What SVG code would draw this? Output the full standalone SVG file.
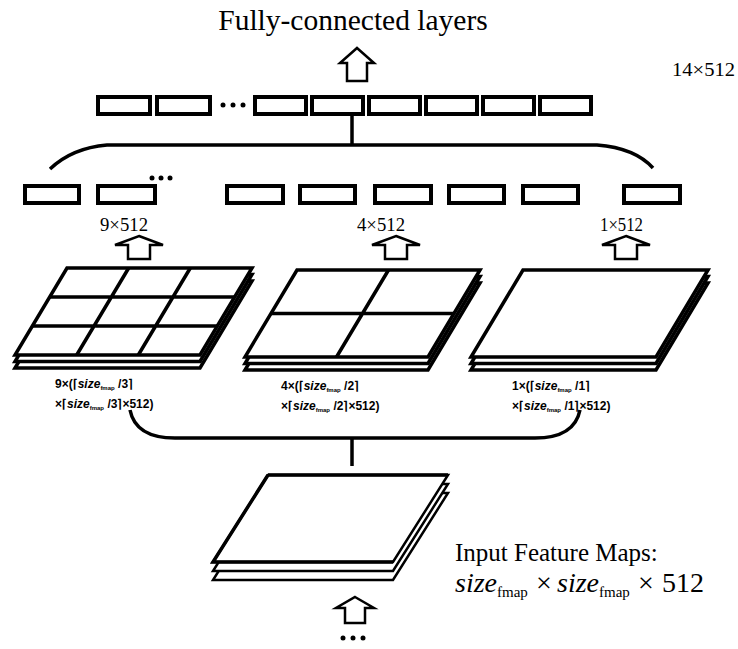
<svg xmlns="http://www.w3.org/2000/svg" width="738" height="649" viewBox="0 0 738 649">
<style>
.box{fill:#fff;stroke:#000;stroke-width:4}
.plate{fill:#fff;stroke:#000;stroke-width:3.5;stroke-linejoin:miter}
.plate2{fill:#fff;stroke:#000;stroke-width:2.5}
.grid{stroke:#000;stroke-width:3.5;fill:none}
.conn{fill:none;stroke:#000;stroke-width:3.5}
.arrow{fill:#fff;stroke:#000;stroke-width:2.5;stroke-linejoin:miter}
.serif{font-family:"Liberation Serif","Times New Roman",serif;fill:#000}
.f{font-family:"Liberation Sans",Arial,sans-serif;font-weight:bold;font-size:12px;fill:#000}
.it{font-style:italic}
.sub{font-size:6px}
.dot{fill:#000}
</style>
<rect width="738" height="649" fill="#fff"/>

<g id="title"><text class="serif" x="353" y="30" font-size="29.5" text-anchor="middle">Fully-connected layers</text></g>
<g id="label-14x512"><text class="serif" x="672" y="76" font-size="19" textLength="63" lengthAdjust="spacingAndGlyphs">14×512</text></g>

<g id="fc-vector">
<rect class="box" x="98" y="97" width="52" height="17"/>
<rect class="box" x="157" y="97" width="53" height="17"/>
<circle class="dot" cx="223" cy="105" r="2.5"/><circle class="dot" cx="233" cy="105" r="2.5"/><circle class="dot" cx="243" cy="105" r="2.5"/>
<rect class="box" x="255" y="97" width="51" height="17"/>
<rect class="box" x="312" y="97" width="51" height="17"/>
<rect class="box" x="369" y="97" width="51" height="17"/>
<rect class="box" x="426" y="97" width="51" height="17"/>
<rect class="box" x="483" y="97" width="51" height="17"/>
<rect class="box" x="540" y="97" width="51" height="17"/>
</g>

<g id="pooled-vectors">
<rect class="box" x="25" y="186" width="54" height="17"/>
<rect class="box" x="98" y="186" width="57" height="17"/>
<circle class="dot" cx="152" cy="178" r="2.5"/><circle class="dot" cx="161" cy="178" r="2.5"/><circle class="dot" cx="170" cy="178" r="2.5"/>
<rect class="box" x="227" y="186" width="56" height="17"/>
<rect class="box" x="300" y="186" width="55" height="17"/>
<rect class="box" x="375" y="186" width="56" height="17"/>
<rect class="box" x="449" y="186" width="55" height="17"/>
<rect class="box" x="523" y="186" width="55" height="17"/>
<rect class="box" x="624" y="186" width="56" height="17"/>
</g>

<g id="labels-512">
<text class="serif" x="100" y="231" font-size="18" textLength="48" lengthAdjust="spacingAndGlyphs">9×512</text>
<text class="serif" x="357" y="231" font-size="18" textLength="48" lengthAdjust="spacingAndGlyphs">4×512</text>
<text class="serif" x="600" y="231" font-size="18" textLength="43" lengthAdjust="spacingAndGlyphs">1×512</text>
</g>

<g id="pool-3x3">
<polygon class="plate" points="67,281 252,281 200,368 15,368"/>
<polygon class="plate" points="67,274.5 252,274.5 200,361.5 15,361.5"/>
<polygon class="plate" points="67,268 252,268 200,355 15,355"/>
<path class="grid" d="M49.7,297 H234.7 M32.3,326 H217.3 M128.7,268 L76.7,355 M190.3,268 L138.3,355"/>
</g>

<g id="pool-2x2">
<polygon class="plate" points="297,283 480,283 428,370 245,370"/>
<polygon class="plate" points="297,276.5 480,276.5 428,363.5 245,363.5"/>
<polygon class="plate" points="297,270 480,270 428,357 245,357"/>
<path class="grid" d="M271,313.5 H454 M388.5,270 L336.5,357"/>
</g>

<g id="pool-1x1">
<polygon class="plate" points="523,283 708,283 656,370 471,370"/>
<polygon class="plate" points="523,276.5 708,276.5 656,363.5 471,363.5"/>
<polygon class="plate" points="523,270 708,270 656,357 471,357"/>
</g>

<g id="formula-3">
<text class="f" x="55" y="388">9×(⌈<tspan class="it">size</tspan><tspan class="sub" dy="2">fmap</tspan><tspan dy="-2"> /3⌉</tspan></text>
<text class="f" x="55" y="408">×⌈<tspan class="it">size</tspan><tspan class="sub" dy="2">fmap</tspan><tspan dy="-2"> /3⌉×512)</tspan></text>
</g>
<g id="formula-2">
<text class="f" x="281" y="390">4×(⌈<tspan class="it">size</tspan><tspan class="sub" dy="2">fmap</tspan><tspan dy="-2"> /2⌉</tspan></text>
<text class="f" x="281" y="410">×⌈<tspan class="it">size</tspan><tspan class="sub" dy="2">fmap</tspan><tspan dy="-2"> /2⌉×512)</tspan></text>
</g>
<g id="formula-1">
<text class="f" x="512" y="390">1×(⌈<tspan class="it">size</tspan><tspan class="sub" dy="2">fmap</tspan><tspan dy="-2"> /1⌉</tspan></text>
<text class="f" x="512" y="410">×⌈<tspan class="it">size</tspan><tspan class="sub" dy="2">fmap</tspan><tspan dy="-2"> /1⌉×512)</tspan></text>
</g>

<g id="input-maps">
<polygon class="plate2" points="268,493 448,493 393,580 213,580"/>
<polygon class="plate2" points="268,484 448,484 393,571 213,571"/>
<polygon class="plate2" points="268,475 448,475 393,562 213,562"/>
<path class="grid" d="M268,475 H448 M268,475 L213,562 H393"/>
<text class="serif" x="455" y="561" font-size="25">Input Feature Maps:</text>
<text class="serif" y="592" font-size="28"><tspan x="455" font-style="italic">size</tspan><tspan x="497" font-size="15" dy="5">fmap</tspan><tspan x="536" dy="-5">×</tspan><tspan x="557" font-style="italic">size</tspan><tspan x="599" font-size="15" dy="5">fmap</tspan><tspan x="638" dy="-5">×</tspan><tspan x="662">512</tspan></text>
</g>

<g id="connectors">
<path class="conn" d="M352,114 V145"/>
<path class="conn" d="M50,169 Q72,148 107,145 H597 Q635,148 653,168"/>
<path class="conn" d="M130,410 C134,430 150,438 175,438 H535 C560,438 576,430 580,410"/>
<path class="conn" d="M352,438 V466"/>
<path class="arrow" d="M357,48 L374,63 L367,63 L367,81 L347,81 L347,63 L340,63 Z"/>
<path class="arrow" d="M139,236 L163,245 L150,245 L150,259 L128,259 L128,245 L115,245 Z"/>
<path class="arrow" d="M396,236 L420,245 L407,245 L407,259 L385,259 L385,245 L372,245 Z"/>
<path class="arrow" d="M626,236 L650,245 L637,245 L637,259 L615,259 L615,245 L602,245 Z"/>
<path class="arrow" d="M355,597 L374,608 L365,608 L365,623 L345,623 L345,608 L336,608 Z"/>
<circle class="dot" cx="343" cy="638" r="2.5"/><circle class="dot" cx="353" cy="638" r="2.5"/><circle class="dot" cx="363" cy="638" r="2.5"/>
</g>
</svg>
